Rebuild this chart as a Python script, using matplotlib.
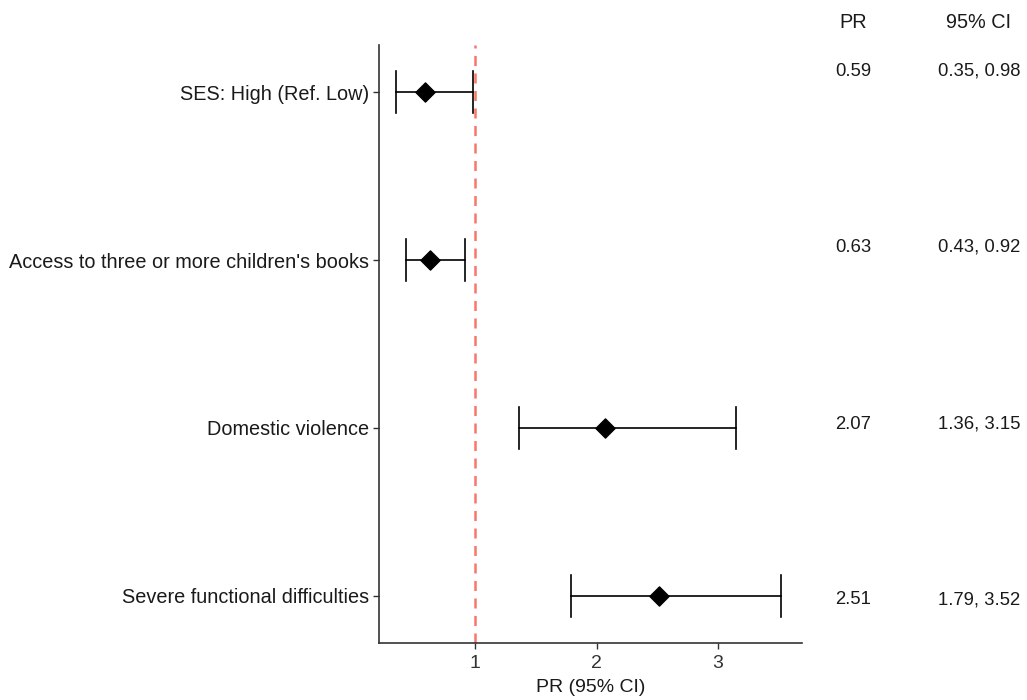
import matplotlib
matplotlib.use("Agg")
import matplotlib.pyplot as plt

plt.rcParams['font.family'] = ['Liberation Sans', 'DejaVu Sans']

labels = ["SES: High (Ref. Low)", "Access to three or more children's books",
          "Domestic violence", "Severe functional difficulties"]
pr = [0.59, 0.63, 2.07, 2.51]
lo = [0.35, 0.43, 1.36, 1.79]
hi = [0.98, 0.92, 3.15, 3.52]
pr_text = ["0.59", "0.63", "2.07", "2.51"]
ci_text = ["0.35, 0.98", "0.43, 0.92", "1.36, 3.15", "1.79, 3.52"]
xticks = [1, 2, 3]

W, H = 1027, 700
fig = plt.figure(figsize=(W / 100, H / 100), dpi=100)
ax = fig.add_axes([379 / W, 1 - 643 / H, (802 - 379) / W, (643 - 45) / H])

ypos = list(range(len(labels)))
ax.axvline(1, color='#F8766D', ls=(0, (4, 3)), lw=1.8, zorder=1)
for y, p, l, h in zip(ypos, pr, lo, hi):
    ax.plot([l, h], [y, y], color='black', lw=1.2, zorder=2)
    for c in (l, h):
        ax.plot([c, c], [y - 0.125, y + 0.125], color='black', lw=1.2, zorder=2)
ax.scatter(pr, ypos, marker='D', s=95, color='black', zorder=3)

ax.set_xlim(0.21, 3.69)
ax.set_ylim(len(labels) - 1 + 0.28, -0.28)
ax.set_xticks(xticks)
ax.set_xticklabels([str(t) for t in xticks], fontsize=14, color='#333333')
ax.set_yticks(ypos)
ax.set_yticklabels(labels, fontsize=14.3, color='#1a1a1a')
ax.tick_params(axis='both', length=4, width=1, color='#333333')
ax.tick_params(axis='x', pad=5)
ax.tick_params(axis='y', pad=3)
for s in ('top', 'right'):
    ax.spines[s].set_visible(False)
for s in ('left', 'bottom'):
    ax.spines[s].set_color('#333333')
    ax.spines[s].set_linewidth(1.2)
ax.set_xlabel("PR (95% CI)", fontsize=14, color='#1a1a1a', labelpad=5)

# table
text_y = [71, 247, 424, 600]
fig.text(853 / W, 1 - 22 / H, "PR", ha='center', va='center', fontsize=14.3, color='#1a1a1a')
fig.text(979 / W, 1 - 22 / H, "95% CI", ha='center', va='center', fontsize=14.3, color='#1a1a1a')
for ty, a, b in zip(text_y, pr_text, ci_text):
    fig.text(853 / W, 1 - ty / H, a, ha='center', va='center', fontsize=13.3, color='#1a1a1a')
    fig.text(979 / W, 1 - ty / H, b, ha='center', va='center', fontsize=13.3, color='#1a1a1a')

fig.savefig("out.png", dpi=100, facecolor='white')
